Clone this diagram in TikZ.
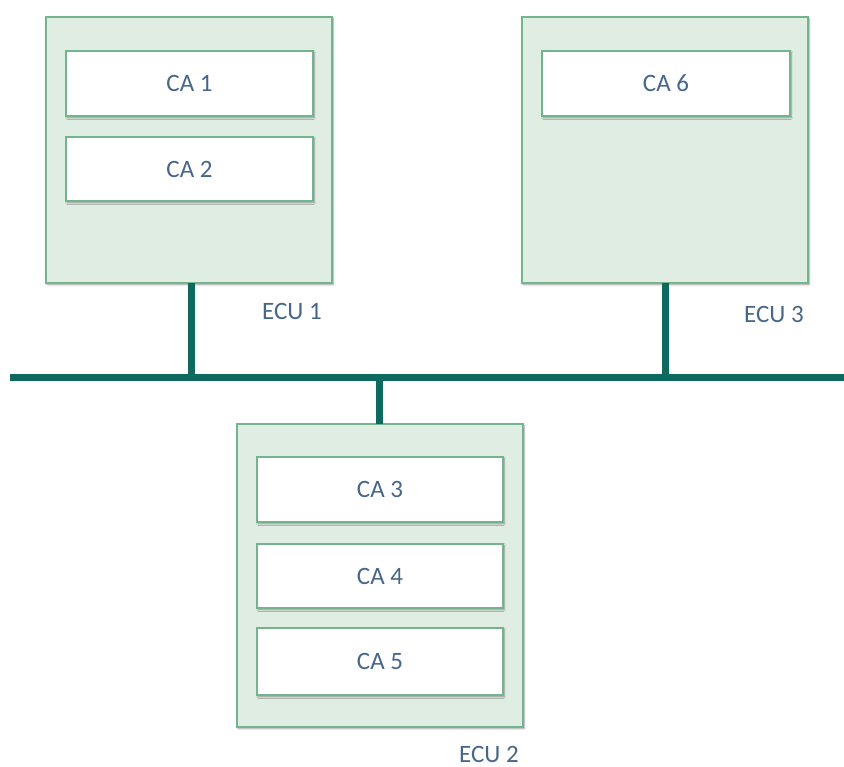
\documentclass[tikz,border=0pt]{standalone}
\usepackage{fontspec}
\setmainfont{Carlito}
\usetikzlibrary{shadows.blur}
\definecolor{ecufill}{HTML}{E0EDE3}
\definecolor{eculine}{HTML}{72B48E}
\definecolor{busteal}{HTML}{0E6A5E}
\definecolor{labeltext}{HTML}{46668A}
\tikzset{
  x=1pt, y=-1pt,
  ecubox/.style={draw=eculine, line width=1.8pt, fill=ecufill,
    blur shadow={shadow xshift=1pt, shadow yshift=-1.5pt, shadow blur steps=6, shadow opacity=40}},
  cabox/.style={draw=eculine, line width=1.8pt, fill=white,
    blur shadow={shadow xshift=1pt, shadow yshift=-1.5pt, shadow blur steps=6, shadow opacity=40},
    text=labeltext, font=\fontsize{25}{28}\selectfont},
  ecutag/.style={text=labeltext, inner sep=0pt, font=\fontsize{25}{28}\selectfont},
  bus/.style={draw=busteal, line width=7pt},
}
\begin{document}
\begin{tikzpicture}
\useasboundingbox (0,0) rectangle (844,767);

% ECU containers
\path[ecubox] (46,17) rectangle (332,283);
\path[ecubox] (522,17) rectangle (808,283);
\path[ecubox] (237,424) rectangle (523,727);
\coordinate (e1) at (191,283);
\coordinate (e3) at (665,283);
\coordinate (e2) at (379,424);

% Application components
\node[cabox, minimum width=247pt, minimum height=65pt] (ca1) at (189.5,83.5) {\raisebox{-2pt}{CA 1}};
\node[cabox, minimum width=247pt, minimum height=64pt] (ca2) at (189.5,169) {\raisebox{-2pt}{CA 2}};
\node[cabox, minimum width=248pt, minimum height=65pt] (ca6) at (666,83.5) {\raisebox{-2pt}{CA 6}};
\node[cabox, minimum width=246pt, minimum height=65pt] (ca3) at (380,489.5) {\raisebox{-2pt}{CA 3}};
\node[cabox, minimum width=246pt, minimum height=64pt] (ca4) at (380,576) {\raisebox{-2pt}{CA 4}};
\node[cabox, minimum width=246pt, minimum height=67pt] (ca5) at (380,661.5) {\raisebox{-2pt}{CA 5}};

% ECU names
\node[ecutag] (l1) at (292,311) {ECU 1};
\node[ecutag] (l3) at (774,314) {ECU 3};
\node[ecutag] (l2) at (489,754) {ECU 2};

% Bus and stubs
\coordinate (busL) at (10,378);
\coordinate (busR) at (844,378);
\draw[bus] (busL) -- (busR);
\draw[bus] (e1) -- (e1 |- busL);
\draw[bus] (e3) -- (e3 |- busL);
\draw[bus] (e2 |- busL) -- (e2);
\end{tikzpicture}
\end{document}
